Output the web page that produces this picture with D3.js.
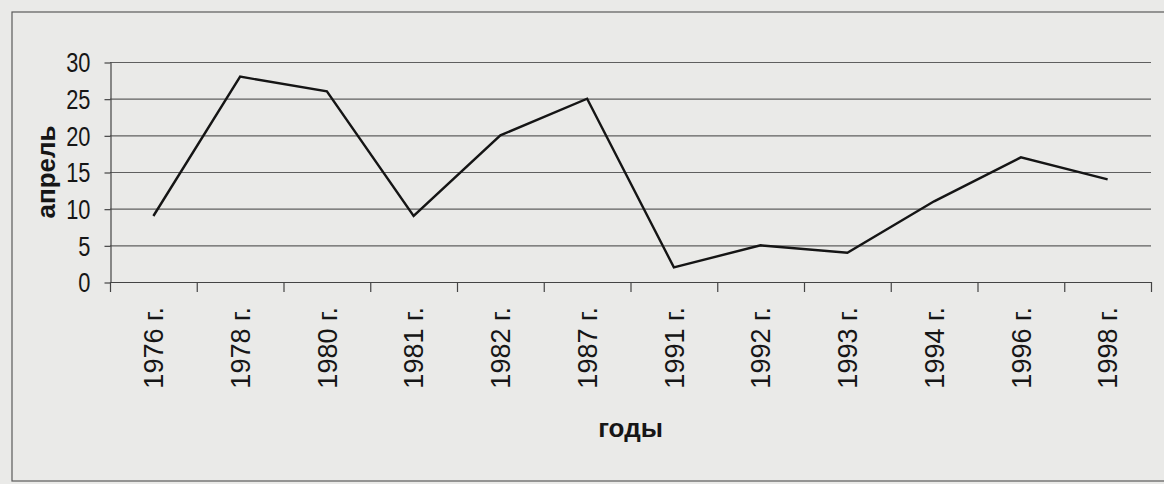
<!DOCTYPE html>
<html>
<head>
<meta charset="utf-8">
<script src="https://cdn.jsdelivr.net/npm/d3@7"></script>
<style>
  html, body { margin: 0; padding: 0; background: #eaeae8; }
  svg { display: block; }
  text { font-family: "Liberation Sans", Arial, sans-serif; fill: #161616; }
</style>
</head>
<body>
<svg id="chart" width="1164" height="484"></svg>
<script>
const categories = ["1976 г.", "1978 г.", "1980 г.", "1981 г.", "1982 г.", "1987 г.",
                    "1991 г.", "1992 г.", "1993 г.", "1994 г.", "1996 г.", "1998 г."];
const values = [9, 28, 26, 9, 20, 25, 2, 5, 4, 11, 17, 14];
const yTicks = [0, 5, 10, 15, 20, 25, 30];
const yTitle = "апрель";
const xTitle = "годы";

const W = 1164, H = 484;
const margin = { left: 110, right: 13, top: 62, bottom: 202 };
const svg = d3.select("#chart");

// outer chart border
svg.append("rect")
  .attr("x", 12).attr("y", 12)
  .attr("width", 1200).attr("height", 469)
  .attr("fill", "none").attr("stroke", "#5a5a5a").attr("stroke-width", 1.2);

const x = d3.scaleBand().domain(categories)
  .range([margin.left, W - margin.right]).padding(0);
const y = d3.scaleLinear().domain([0, 30])
  .range([H - margin.bottom, margin.top]);

// gridlines
svg.append("g").selectAll("line").data(yTicks.filter(d => d > 0)).join("line")
  .attr("x1", margin.left).attr("x2", W - margin.right)
  .attr("y1", d => y(d) + 0.5).attr("y2", d => y(d) + 0.5)
  .attr("stroke", "#5f5f5f").attr("stroke-width", 1.2);

// y axis
const yAxis = svg.append("g")
  .attr("transform", `translate(${margin.left + 0.5},0)`)
  .call(d3.axisLeft(y).tickValues(yTicks).tickSize(6).tickSizeOuter(0));
yAxis.select(".domain").attr("stroke", "#444").attr("stroke-width", 1.2);
yAxis.selectAll(".tick line").attr("stroke", "#444").attr("stroke-width", 1.2)
  .attr("transform", "translate(0,0.5)");
yAxis.selectAll(".tick text")
  .attr("x", 0)
  .attr("dy", "0.35em")
  .attr("transform", "translate(-20,0) scale(0.78,1)")
  .style("font-size", "28px")
  .style("font-family", "'Liberation Sans', Arial, sans-serif")
  .attr("fill", "#161616");

// x axis line
svg.append("line")
  .attr("x1", margin.left).attr("x2", W - margin.right)
  .attr("y1", y(0) + 0.5).attr("y2", y(0) + 0.5)
  .attr("stroke", "#444").attr("stroke-width", 1.2);

// x boundary ticks
const bounds = categories.map(c => x(c)).concat([x.range()[1]]);
svg.append("g").selectAll("line").data(bounds).join("line")
  .attr("x1", d => d + 0.5).attr("x2", d => d + 0.5)
  .attr("y1", y(0)).attr("y2", y(0) + 10)
  .attr("stroke", "#444").attr("stroke-width", 1.2);

// x labels (rotated)
const xAxis = svg.append("g")
  .attr("transform", `translate(0,${y(0)})`)
  .call(d3.axisBottom(x).tickSize(0).tickPadding(0));
xAxis.select(".domain").remove();
xAxis.selectAll(".tick text")
  .attr("y", 0)
  .attr("dy", "0.36em")
  .attr("text-anchor", "end")
  .attr("transform", "translate(0,25) rotate(-90)")
  .attr("x", 0)
  .style("font-size", "27px")
  .style("font-family", "'Liberation Sans', Arial, sans-serif")
  .attr("fill", "#161616");

// data line
const line = d3.line()
  .x((d, i) => x(categories[i]) + x.bandwidth() / 2)
  .y(d => y(d));
svg.append("path").datum(values)
  .attr("d", line)
  .attr("fill", "none")
  .attr("stroke", "#151515")
  .attr("stroke-width", 2.4)
  .attr("stroke-linejoin", "miter");

// axis titles
svg.append("text")
  .attr("x", (x.range()[0] + x.range()[1]) / 2)
  .attr("y", 437)
  .attr("text-anchor", "middle")
  .style("font-size", "26px")
  .style("font-weight", "bold")
  .text(xTitle);

svg.append("text")
  .attr("transform", `translate(55,${(y(0) + y(30)) / 2}) rotate(-90)`)
  .attr("text-anchor", "middle")
  .style("font-size", "26px")
  .style("font-weight", "bold")
  .text(yTitle);
</script>
</body>
</html>
